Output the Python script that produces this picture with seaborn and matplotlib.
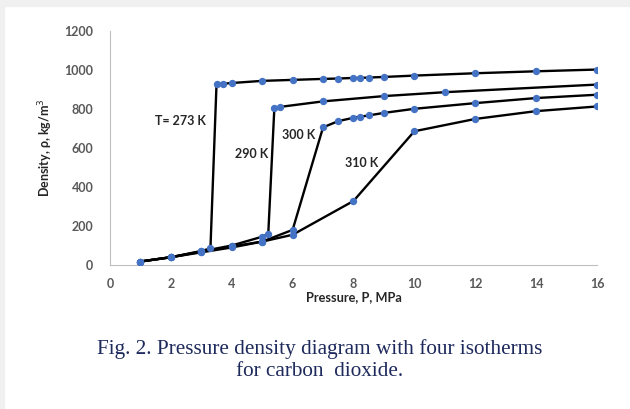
import seaborn as sns
import matplotlib.pyplot as plt
import pandas as pd
from matplotlib.patches import Rectangle

# isotherm data: pressure (MPa) and density (kg/m3)
p_273 = [1, 2, 3, 3.3, 3.5, 3.7, 4, 5, 6, 7, 7.5, 8, 8.2, 8.5, 9, 10, 12, 14, 16]
rho_273 = [18, 40, 72, 85, 928, 928, 932, 943, 948, 953, 955, 958, 958, 960, 963, 970, 982, 992, 1001]

p_290 = [1, 2, 3, 4, 5, 5.2, 5.4, 5.6, 7, 9, 11, 16]
rho_290 = [18, 40, 70, 100, 145, 160, 805, 810, 838, 865, 885, 924]

p_300 = [1, 2, 3, 4, 5, 6, 7, 7.5, 8, 8.2, 8.5, 9, 10, 12, 14, 16]
rho_300 = [18, 40, 68, 95, 120, 180, 705, 737, 754, 759, 766, 779, 800, 829, 855, 872]

p_310 = [1, 2, 3, 4, 5, 6, 8, 10, 12, 14, 16]
rho_310 = [18, 40, 65, 90, 120, 155, 328, 685, 748, 788, 812]

labels = ["T= 273 K", "290 K", "300 K", "310 K"]
label_pos = [(2.3, 740), (4.66, 567), (6.2, 664), (8.28, 521)]

frames = []
for name, p, rho in [("273", p_273, rho_273), ("290", p_290, rho_290),
                     ("300", p_300, rho_300), ("310", p_310, rho_310)]:
    frames.append(pd.DataFrame({"P": p, "rho": rho, "T": name}))
df = pd.concat(frames, ignore_index=True)

sns.set_style("white")
plt.rcParams['font.family'] = ['Lato', 'DejaVu Sans']

fig = plt.figure(figsize=(6.3, 4.09), dpi=100)
fig.patch.set_facecolor("white")
# light grey strip along the top and left edge of the scan
fig.patches.append(Rectangle((0, 0.985), 1, 0.015, transform=fig.transFigure,
                             color="#f0f0f0", zorder=0))
fig.patches.append(Rectangle((0, 0), 0.007, 1, transform=fig.transFigure,
                             color="#f0f0f0", zorder=0))

ax = fig.add_axes([0.1746, 0.352, 0.773, 0.573])
sns.lineplot(data=df, x="P", y="rho", units="T", estimator=None, sort=False,
             color="black", linewidth=1.7, ax=ax, zorder=2)
sns.scatterplot(data=df, x="P", y="rho", color="#4472C4", s=28,
                edgecolor="#4472C4", linewidth=0, ax=ax, zorder=3)

ax.set_xlim(0, 16)
ax.set_ylim(0, 1200)
ax.set_xticks(range(0, 17, 2))
ax.set_yticks(range(0, 1201, 200))
for s in ["top", "right"]:
    ax.spines[s].set_visible(False)
for s in ["left", "bottom"]:
    ax.spines[s].set_color("#bfbfbf")
    ax.spines[s].set_linewidth(0.8)
ax.tick_params(axis="both", labelsize=9, labelcolor="#595959", color="#bfbfbf",
               length=3, width=0.8)
ax.tick_params(axis="x", direction="in", pad=9)
ax.tick_params(axis="y", direction="out", pad=9)
for t in ax.get_xticklabels() + ax.get_yticklabels():
    t.set_fontweight("bold")

ax.set_xlabel("Pressure, P, MPa", fontsize=9.2, fontweight="bold", labelpad=1)
ax.set_ylabel("Density, ρ, kg/m$^3$", fontsize=9, fontweight="bold", labelpad=7)

for txt, (x, y) in zip(labels, label_pos):
    ax.text(x, y, txt, fontsize=9, fontweight="bold", ha="center", va="center")

fig.text(0.508, 0.12, "Fig. 2. Pressure density diagram with four isotherms\nfor carbon  dioxide.",
         ha="center", va="center", fontsize=15.3, color="#1f2a5c",
         family=["Liberation Serif"], linespacing=1.2)

fig.savefig("out.png", dpi=100)
